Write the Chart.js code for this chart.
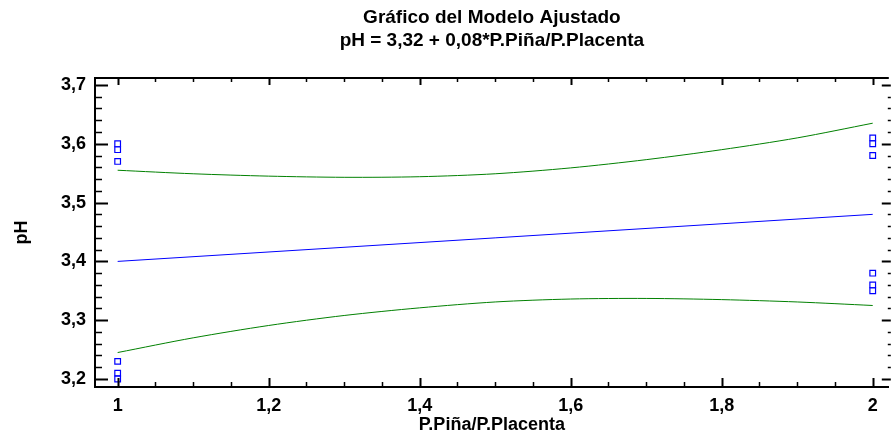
<!DOCTYPE html>
<html>
<head>
<meta charset="utf-8">
<script src="https://cdn.jsdelivr.net/npm/chart.js@4"></script>
<style>
  html, body { margin: 0; padding: 0; background: #fff; }
  #wrap { width: 894px; height: 436px; }
</style>
</head>
<body>
<div id="wrap"><canvas id="fitChart"></canvas></div>
<script>
const titleLines = ["Gráfico del Modelo Ajustado", "pH = 3,32 + 0,08*P.Piña/P.Placenta"];
const xLabel = "P.Piña/P.Placenta";
const yLabel = "pH";

// observed values (two groups of six)
const obsX = [1, 1, 1, 1, 1, 1, 2, 2, 2, 2, 2, 2];
const obsPH = [3.60, 3.59, 3.57, 3.23, 3.21, 3.20, 3.61, 3.60, 3.58, 3.38, 3.36, 3.35];

// fitted line
const fitX = [1, 2];
const fitPH = [3.40, 3.48];

// limits around the fit
const bandX = [1.0, 1.1, 1.2, 1.3, 1.4, 1.5, 1.6, 1.7, 1.8, 1.9, 2.0];
const upperPH = [3.555, 3.549, 3.545, 3.543, 3.544, 3.549, 3.559, 3.573, 3.590, 3.610, 3.635];
const lowerPH = [3.245, 3.270, 3.291, 3.308, 3.321, 3.331, 3.336, 3.337, 3.335, 3.331, 3.325];

const xTicks = [1, 1.2, 1.4, 1.6, 1.8, 2];
const yTicks = [3.2, 3.3, 3.4, 3.5, 3.6, 3.7];
const xMinorStep = 0.05;
const yMinorStep = 0.02;

const FONT = "'Liberation Sans', Arial, sans-serif";
const BLUE = "rgb(0, 0, 255)";
const GREEN = "rgb(0, 128, 0)";

const toPts = (xs, ys) => xs.map((v, i) => ({ x: v, y: ys[i] }));
const comma = v => String(Math.round(v * 10) / 10).replace(".", ",");

// inward ticks on all four sides plus the top frame line
const frameTicks = {
  id: "frameTicks",
  afterDatasetsDraw(chart) {
    const { ctx, chartArea: a, scales: { x, y } } = chart;
    const px = v => Math.round(v) + 0.5;
    ctx.save();
    ctx.strokeStyle = "#000";

    ctx.lineWidth = 2;
    ctx.beginPath();
    ctx.moveTo(a.left, a.top);
    ctx.lineTo(a.right, a.top);
    ctx.stroke();

    // x ticks, bottom and top
    const nx = Math.round((xTicks[xTicks.length - 1] - xTicks[0]) / xMinorStep);
    for (let i = 0; i <= nx; i++) {
      const xp = px(x.getPixelForValue(xTicks[0] + i * xMinorStep));
      const major = i % 4 === 0;
      ctx.lineWidth = major ? 2 : 1.5;
      ctx.beginPath();
      ctx.moveTo(xp, a.bottom);
      ctx.lineTo(xp, a.bottom - (major ? 9 : 5));
      ctx.moveTo(xp, a.top);
      ctx.lineTo(xp, a.top + (major ? 7 : 4));
      ctx.stroke();
    }

    // y ticks, left and right
    const ny = Math.round((yTicks[yTicks.length - 1] - yTicks[0]) / yMinorStep);
    for (let i = 0; i <= ny; i++) {
      const yp = px(y.getPixelForValue(yTicks[0] + i * yMinorStep));
      const major = i % 5 === 0;
      ctx.lineWidth = major ? 2 : 1.5;
      ctx.beginPath();
      ctx.moveTo(a.left, yp);
      ctx.lineTo(a.left + (major ? 13 : 7), yp);
      ctx.moveTo(a.right + 2, yp);
      ctx.lineTo(a.right + 2 - (major ? 9 : 3), yp);
      ctx.stroke();
    }
    ctx.restore();
  }
};

new Chart(document.getElementById("fitChart"), {
  type: "scatter",
  data: {
    datasets: [
      {
        label: "Observado",
        data: toPts(obsX, obsPH),
        showLine: false,
        pointStyle: "rect",
        pointRadius: 4,
        pointBorderWidth: 1.2,
        pointBorderColor: BLUE,
        pointBackgroundColor: "#fff",
        order: 0
      },
      {
        label: "Ajuste",
        data: toPts(fitX, fitPH),
        showLine: true,
        borderColor: BLUE,
        borderWidth: 1,
        pointRadius: 0,
        order: 1
      },
      {
        label: "Límite superior",
        data: toPts(bandX, upperPH),
        showLine: true,
        borderColor: GREEN,
        borderWidth: 1,
        tension: 0.3,
        pointRadius: 0,
        order: 2
      },
      {
        label: "Límite inferior",
        data: toPts(bandX, lowerPH),
        showLine: true,
        borderColor: GREEN,
        borderWidth: 1,
        tension: 0.3,
        pointRadius: 0,
        order: 2
      }
    ]
  },
  options: {
    responsive: true,
    maintainAspectRatio: false,
    animation: false,
    layout: { padding: 0 },
    plugins: {
      legend: { display: false },
      tooltip: { enabled: false },
      title: {
        display: true,
        text: titleLines,
        fullSize: false,
        color: "#000",
        font: { family: FONT, size: 19, weight: "bold", lineHeight: 1.21 },
        padding: { top: 6, bottom: 26 }
      }
    },
    scales: {
      x: {
        type: "linear",
        min: 0.97,
        max: 2.0213,
        afterBuildTicks: s => { s.ticks = xTicks.map(v => ({ value: v })); },
        afterFit: s => { s.height = 49; },
        grid: { display: false, drawTicks: false },
        border: { display: true, color: "#000", width: 2 },
        ticks: {
          color: "#000",
          padding: 8,
          maxRotation: 0,
          font: { family: FONT, size: 18, weight: "bold" },
          callback: v => comma(v)
        },
        title: {
          display: true,
          text: xLabel,
          color: "#000",
          padding: { top: 0, bottom: 0 },
          font: { family: FONT, size: 18, weight: "bold" }
        }
      },
      y: {
        type: "linear",
        min: 3.1864,
        max: 3.7119,
        afterBuildTicks: s => { s.ticks = yTicks.map(v => ({ value: v })); },
        afterFit: s => { s.width = 95; },
        grid: { display: false, drawTicks: false },
        border: { display: true, color: "#000", width: 2 },
        ticks: {
          color: "#000",
          padding: 9,
          font: { family: FONT, size: 18, weight: "bold" },
          callback: v => comma(v)
        },
        title: {
          display: true,
          text: yLabel,
          color: "#000",
          padding: { top: 11, bottom: 0 },
          font: { family: FONT, size: 18, weight: "bold" }
        }
      }
    }
  },
  plugins: [frameTicks]
});
</script>
</body>
</html>
